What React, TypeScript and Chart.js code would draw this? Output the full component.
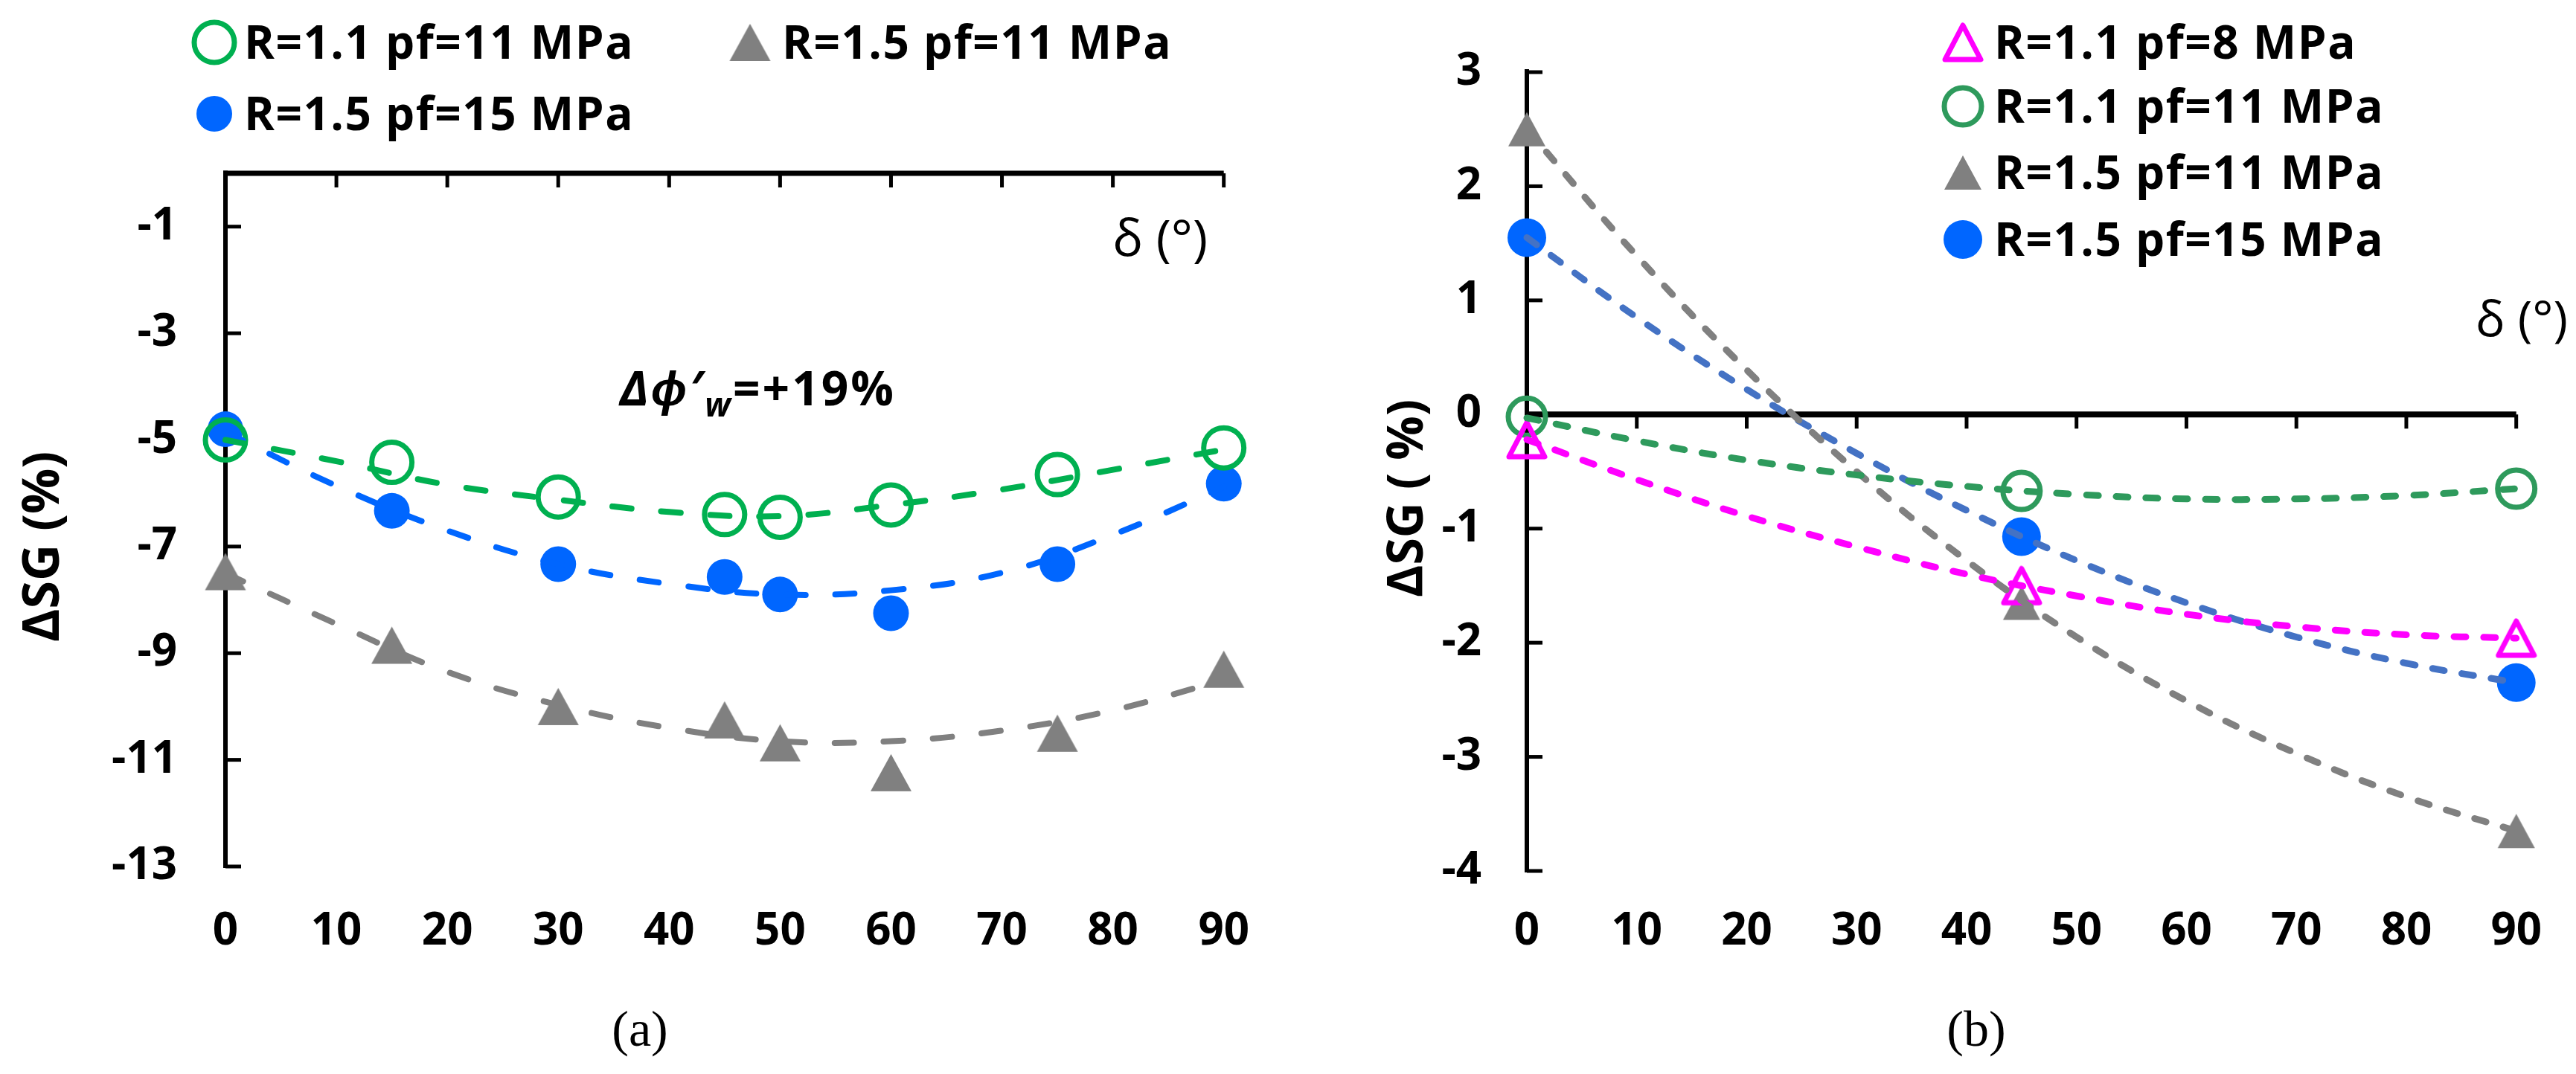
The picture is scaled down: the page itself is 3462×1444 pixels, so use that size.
import { useEffect, useRef } from 'react'
import { Chart, registerables } from 'chart.js'

Chart.register(...registerables)

const FONT = '"Open Sans", "Liberation Sans", sans-serif'
const SERIF = '"Liberation Serif", "DejaVu Serif", serif'

// x ticks shared by both panels
const xTicks = [0, 10, 20, 30, 40, 50, 60, 70, 80, 90]
const trendX = [0, 10, 20, 30, 40, 50, 60, 70, 80, 90]

// panel (a): measured points
const aMarkX = [0, 15, 30, 45, 50, 60, 75, 90]
const aR11pf11 = [-5.0, -5.42, -6.07, -6.4, -6.45, -6.22, -5.65, -5.15]
const aR15pf11 = [-7.47, -8.85, -10.0, -10.25, -10.68, -11.24, -10.5, -9.3]
const aR15pf15 = [-4.8, -6.33, -7.33, -7.57, -7.9, -8.25, -7.33, -5.82]
// panel (a): trend lines
const aTrendR11pf11 = [-5.0, -5.4, -5.84, -6.12, -6.35, -6.43, -6.22, -5.93, -5.56, -5.18]
const aTrendR15pf11 = [-7.5, -8.45, -9.35, -9.97, -10.4, -10.65, -10.65, -10.45, -10.07, -9.5]
const aTrendR15pf15 = [-4.85, -5.86, -6.7, -7.33, -7.7, -7.9, -7.82, -7.49, -6.78, -5.88]
const aYTicks = [-13, -11, -9, -7, -5, -3, -1]

// panel (b): measured points
const bMarkX = [0, 45, 90]
const bR11pf8 = [-0.22, -1.5, -1.96]
const bR11pf11 = [-0.02, -0.67, -0.65]
const bR15pf11 = [2.5, -1.65, -3.65]
const bR15pf15 = [1.55, -1.07, -2.35]
// panel (b): trend lines
const bTrendR11pf8 = [-0.22, -0.57, -0.89, -1.16, -1.4, -1.59, -1.75, -1.86, -1.93, -1.96]
const bTrendR11pf11 = [-0.03, -0.23, -0.4, -0.53, -0.63, -0.7, -0.74, -0.74, -0.71, -0.65]
const bTrendR15pf11 = [2.5, 1.39, 0.39, -0.5, -1.28, -1.95, -2.51, -2.97, -3.35, -3.65]
const bTrendR15pf15 = [1.55, 0.85, 0.22, -0.34, -0.84, -1.28, -1.65, -1.95, -2.18, -2.35]
const bYTicks = [-4, -3, -2, -1, 0, 1, 2, 3]

const W = 1731
const H = 1444

const pts = (xs: number[], ys: number[]) => xs.map((x, i) => ({ x, y: ys[i] }))

// triangle marker centred on its bounding box, like Excel
function triangle(w: number, h: number, fill: string, stroke: string, lw: number) {
  const pad = Math.ceil(lw / 2) + 2
  const c = document.createElement('canvas')
  c.width = w + pad * 2
  c.height = h + pad * 2
  const ctx = c.getContext('2d')!
  ctx.beginPath()
  ctx.moveTo(pad, pad + h)
  ctx.lineTo(pad + w / 2, pad)
  ctx.lineTo(pad + w, pad + h)
  ctx.closePath()
  ctx.lineJoin = 'round'
  if (fill) {
    ctx.fillStyle = fill
    ctx.fill()
  }
  if (lw) {
    ctx.strokeStyle = stroke
    ctx.lineWidth = lw
    ctx.stroke()
  }
  return c
}

type Marker = { kind: 'circle' | 'img'; r?: number; fill?: string; stroke?: string; lw?: number; img?: HTMLCanvasElement }

function markerSet(label: string, xs: number[], ys: number[], m: Marker) {
  const base: any = { label, data: pts(xs, ys), showLine: false, order: 1, clip: false }
  if (m.kind === 'img') {
    return { ...base, pointStyle: m.img, pointRadius: 30 }
  }
  return {
    ...base,
    pointStyle: 'circle',
    pointRadius: m.r,
    pointBorderWidth: m.lw,
    pointBackgroundColor: m.fill,
    pointBorderColor: m.stroke,
  }
}

function trendSet(ys: number[], color: string, width: number, dash: number[]) {
  return {
    label: '',
    data: pts(trendX, ys),
    showLine: true,
    borderColor: color,
    borderWidth: width,
    borderDash: dash,
    borderCapStyle: 'round',
    pointRadius: 0,
    tension: 0.4,
    fill: false,
    order: 0,
    clip: false,
  }
}

function drawMarker(ctx: CanvasRenderingContext2D, m: Marker, x: number, y: number) {
  if (m.kind === 'img' && m.img) {
    ctx.drawImage(m.img, x - m.img.width / 2, y - m.img.height / 2)
    return
  }
  ctx.beginPath()
  ctx.arc(x, y, m.r!, 0, Math.PI * 2)
  if (m.fill && m.fill !== 'transparent') {
    ctx.fillStyle = m.fill
    ctx.fill()
  }
  if (m.lw) {
    ctx.strokeStyle = m.stroke!
    ctx.lineWidth = m.lw
    ctx.stroke()
  }
}

type Panel = {
  id: string
  datasets: any[]
  yMin: number
  yMax: number
  yTicks: number[]
  pad: { top: number; right: number }
  yWidth: number
  xHeight: number
  xPad: number
  yPad: number
  yAxisLw: number
  xAxisLw: number
  xTickLen: number
  legend: { m: Marker; text: string; mx: number; tx: number; y: number }[]
  decorate: (ctx: CanvasRenderingContext2D) => void
}

function makeChart(canvas: HTMLCanvasElement, p: Panel) {
  const axes = {
    id: 'axes-' + p.id,
    beforeDatasetsDraw(chart: any) {
      const { ctx, chartArea } = chart
      const xs = chart.scales.x
      const ys = chart.scales.y
      const y0 = ys.getPixelForValue(0)
      ctx.save()
      ctx.strokeStyle = '#000'
      ctx.lineCap = 'butt'
      ctx.lineWidth = p.yAxisLw
      ctx.beginPath()
      ctx.moveTo(chartArea.left, chartArea.top - p.xAxisLw / 2)
      ctx.lineTo(chartArea.left, chartArea.bottom + 2)
      ctx.stroke()
      ctx.lineWidth = 5
      for (const t of ys.ticks) {
        const py = ys.getPixelForValue(t.value)
        ctx.beginPath()
        ctx.moveTo(chartArea.left, py)
        ctx.lineTo(chartArea.left + 21, py)
        ctx.stroke()
      }
      ctx.lineWidth = p.xAxisLw
      ctx.beginPath()
      ctx.moveTo(chartArea.left - p.yAxisLw / 2, y0)
      ctx.lineTo(chartArea.right, y0)
      ctx.stroke()
      ctx.lineWidth = 5
      for (const t of xs.ticks) {
        if (t.value === 0) continue
        const px = xs.getPixelForValue(t.value)
        ctx.beginPath()
        ctx.moveTo(px, y0)
        ctx.lineTo(px, y0 + p.xTickLen)
        ctx.stroke()
      }
      ctx.restore()
    },
    afterDraw(chart: any) {
      const ctx: any = chart.ctx
      ctx.save()
      ctx.fillStyle = '#000'
      ctx.font = `bold 62px ${FONT}`
      ctx.letterSpacing = '1.5px'
      ctx.textBaseline = 'alphabetic'
      ctx.textAlign = 'left'
      for (const it of p.legend) {
        drawMarker(ctx, it.m, it.mx, it.y)
        ctx.fillStyle = '#000'
        ctx.fillText(it.text, it.tx, it.y + 22)
      }
      ctx.letterSpacing = '0px'
      p.decorate(ctx)
      ctx.restore()
    },
  }

  return new Chart(canvas, {
    type: 'scatter',
    data: { datasets: p.datasets },
    options: {
      responsive: false,
      animation: false,
      devicePixelRatio: 1,
      events: [],
      layout: { padding: { top: p.pad.top, right: p.pad.right, left: 0, bottom: 0 } },
      plugins: { legend: { display: false }, tooltip: { enabled: false } },
      scales: {
        x: {
          type: 'linear',
          position: 'bottom',
          min: 0,
          max: 90,
          afterBuildTicks: (s: any) => {
            s.ticks = xTicks.map((v) => ({ value: v }))
          },
          afterFit: (s: any) => {
            s.height = p.xHeight
          },
          ticks: {
            font: { family: FONT, weight: 'bold', size: 60 },
            color: '#000',
            padding: p.xPad,
            maxRotation: 0,
            autoSkip: false,
            callback: (v: any) => String(v),
          },
          grid: { display: false, drawTicks: false },
          border: { display: false },
        },
        y: {
          type: 'linear',
          min: p.yMin,
          max: p.yMax,
          afterBuildTicks: (s: any) => {
            s.ticks = p.yTicks.map((v) => ({ value: v }))
          },
          afterFit: (s: any) => {
            s.width = p.yWidth
          },
          ticks: {
            font: { family: FONT, weight: 'bold', size: 60 },
            color: '#000',
            padding: p.yPad,
            autoSkip: false,
            callback: (v: any) => String(v),
          },
          grid: { display: false, drawTicks: false },
          border: { display: false },
        },
      },
    } as any,
    plugins: [axes],
  })
}

function rotatedText(ctx: CanvasRenderingContext2D, text: string, x: number, y: number) {
  ctx.save()
  ctx.translate(x, y)
  ctx.rotate(-Math.PI / 2)
  ctx.textAlign = 'center'
  ctx.textBaseline = 'middle'
  ctx.fillText(text, 0, 0)
  ctx.restore()
}

function panelA(): Panel {
  const green: Marker = { kind: 'circle', r: 27, lw: 7, fill: 'transparent', stroke: '#00B050' }
  const blue: Marker = { kind: 'circle', r: 24, lw: 0, fill: '#0066FF', stroke: '#0066FF' }
  const gray: Marker = { kind: 'img', img: triangle(55, 50, '#808080', '#808080', 0) }
  const dash = [26, 40]
  return {
    id: 'a',
    datasets: [
      trendSet(aTrendR11pf11, '#00B050', 8, dash),
      trendSet(aTrendR15pf15, '#0066FF', 8, dash),
      trendSet(aTrendR15pf11, '#808080', 8, dash),
      markerSet('R=1.1 pf=11 MPa', aMarkX, aR11pf11, green),
      markerSet('R=1.5 pf=11 MPa', aMarkX, aR15pf11, gray),
      markerSet('R=1.5 pf=15 MPa', aMarkX, aR15pf15, blue),
    ],
    yMin: -13,
    yMax: 0,
    yTicks: aYTicks,
    pad: { top: 233, right: W - 1645 },
    yWidth: 303,
    xHeight: H - 1165,
    xPad: 52,
    yPad: 65,
    yAxisLw: 6,
    xAxisLw: 7,
    xTickLen: 19,
    legend: [
      { m: green, text: 'R=1.1 pf=11 MPa', mx: 288, tx: 328, y: 57 },
      { m: gray, text: 'R=1.5 pf=11 MPa', mx: 1008, tx: 1051, y: 57 },
      { m: blue, text: 'R=1.5 pf=15 MPa', mx: 288, tx: 328, y: 153 },
    ],
    decorate: (ctx: any) => {
      ctx.fillStyle = '#000'
      ctx.textAlign = 'right'
      ctx.textBaseline = 'middle'
      ctx.font = `68px ${FONT}`
      ctx.fillText('δ (°)', 1623, 325)
      // annotation
      ctx.textAlign = 'left'
      let x = 833
      const base = 545
      ctx.textBaseline = 'alphabetic'
      ctx.letterSpacing = '3px'
      ctx.font = `italic bold 64px ${FONT}`
      ctx.fillText('Δϕ′', x, base)
      x += ctx.measureText('Δϕ′').width
      ctx.font = `italic bold 44px ${FONT}`
      ctx.fillText('w', x, base + 15)
      x += ctx.measureText('w').width
      ctx.font = `bold 64px ${FONT}`
      ctx.fillText('=+19%', x, base)
      ctx.letterSpacing = '0px'
      ctx.font = `bold 68px ${FONT}`
      rotatedText(ctx, 'ΔSG (%)', 60, 735)
      ctx.font = `68px ${SERIF}`
      ctx.textAlign = 'center'
      ctx.textBaseline = 'middle'
      ctx.fillText('(a)', 860, 1388)
    },
  }
}

function panelB(): Panel {
  const magenta: Marker = { kind: 'img', img: triangle(48, 46, '', '#FF00FF', 7) }
  const green: Marker = { kind: 'circle', r: 25, lw: 7, fill: 'transparent', stroke: '#2E9A5C' }
  const gray: Marker = { kind: 'img', img: triangle(50, 46, '#808080', '#808080', 0) }
  const blue: Marker = { kind: 'circle', r: 26, lw: 0, fill: '#0066FF', stroke: '#0066FF' }
  const dash = [16, 24]
  const ox = 1731
  return {
    id: 'b',
    datasets: [
      trendSet(bTrendR11pf8, '#FF00FF', 9, dash),
      trendSet(bTrendR11pf11, '#2E9A5C', 9, dash),
      trendSet(bTrendR15pf11, '#808080', 9, dash),
      trendSet(bTrendR15pf15, '#4472C4', 9, dash),
      markerSet('R=1.1 pf=8 MPa', bMarkX, bR11pf8, magenta),
      markerSet('R=1.1 pf=11 MPa', bMarkX, bR11pf11, green),
      markerSet('R=1.5 pf=11 MPa', bMarkX, bR15pf11, gray),
      markerSet('R=1.5 pf=15 MPa', bMarkX, bR15pf15, blue),
    ],
    yMin: -4,
    yMax: 3,
    yTicks: bYTicks,
    pad: { top: 44, right: W - (3405 - ox) },
    yWidth: 2052 - ox,
    xHeight: H - 1171,
    xPad: 46,
    yPad: 61,
    yAxisLw: 6,
    xAxisLw: 8,
    xTickLen: 19,
    legend: [
      { m: magenta, text: 'R=1.1 pf=8 MPa', mx: 2638 - ox, tx: 2680 - ox, y: 57 },
      { m: green, text: 'R=1.1 pf=11 MPa', mx: 2638 - ox, tx: 2680 - ox, y: 143 },
      { m: gray, text: 'R=1.5 pf=11 MPa', mx: 2638 - ox, tx: 2680 - ox, y: 232 },
      { m: blue, text: 'R=1.5 pf=15 MPa', mx: 2638 - ox, tx: 2680 - ox, y: 322 },
    ],
    decorate: (ctx) => {
      ctx.fillStyle = '#000'
      ctx.textAlign = 'right'
      ctx.textBaseline = 'middle'
      ctx.font = `66px ${FONT}`
      ctx.fillText('δ (°)', 3451 - ox, 433)
      ctx.font = `bold 66px ${FONT}`
      rotatedText(ctx, 'ΔSG ( %)', 1893 - ox, 670)
      ctx.font = `68px ${SERIF}`
      ctx.textAlign = 'center'
      ctx.textBaseline = 'middle'
      ctx.fillText('(b)', 2656 - ox, 1388)
    },
  }
}

function PanelCanvas({ build, left }: { build: () => Panel; left: number }) {
  const canvasRef = useRef<HTMLCanvasElement>(null)
  const chartRef = useRef<Chart | null>(null)

  useEffect(() => {
    if (canvasRef.current) {
      chartRef.current = makeChart(canvasRef.current, build())
    }
    return () => {
      if (chartRef.current) {
        chartRef.current.destroy()
        chartRef.current = null
      }
    }
  }, [])

  return (
    <canvas
      ref={canvasRef}
      width={W}
      height={H}
      style={{ position: 'absolute', left, top: 0, width: W, height: H }}
    />
  )
}

const App = () => {
  useEffect(() => {
    document.body.style.margin = '0'
  }, [])

  return (
    <div style={{ position: 'relative', width: 3462, height: 1444, background: '#fff', overflow: 'hidden' }}>
      <PanelCanvas build={panelA} left={0} />
      <PanelCanvas build={panelB} left={W} />
    </div>
  )
}

export default App
